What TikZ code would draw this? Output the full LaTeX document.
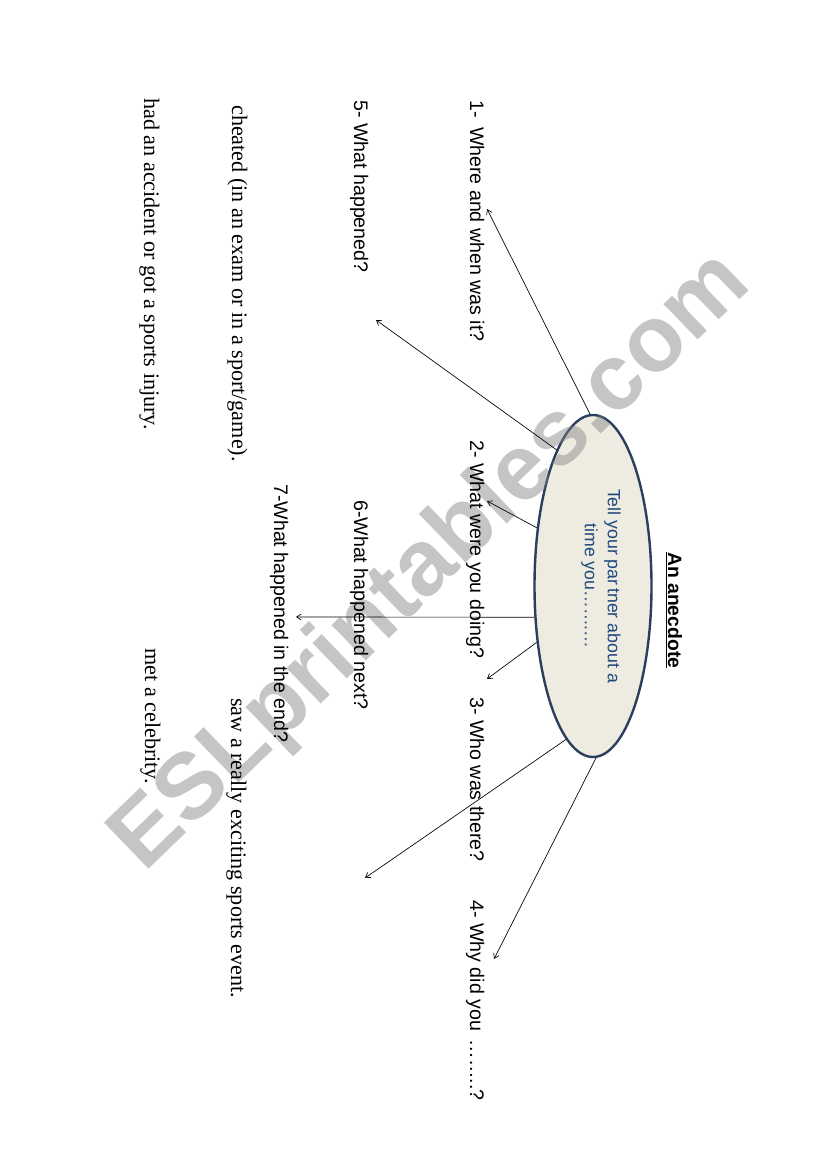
\documentclass[tikz,border=0pt]{standalone}
\usepackage{fontspec}
\setmainfont{Liberation Serif}
\newfontfamily\arialfont{Liberation Sans}
\usetikzlibrary{shapes.geometric,arrows.meta}

\definecolor{ovalfill}{HTML}{EEECE1}
\definecolor{ovaldraw}{HTML}{2C3E5E}
\definecolor{prompttext}{HTML}{1F497D}

\begin{document}
\begin{tikzpicture}[x=0.75pt, y=-0.75pt, >={Straight Barb[length=3.5pt,width=4.5pt]},
  question/.style={font=\arialfont\fontsize{14.7}{17}\selectfont, rotate=-90, anchor=base west, inner sep=0pt},
  answer/.style={font=\fontsize{16.6}{19}\selectfont, rotate=-90, anchor=base west, inner sep=0pt},
  link/.style={->, line width=0.5pt}]

\fill[white] (0,0) rectangle (826,1169);
\useasboundingbox (0,0) rectangle (826,1169);

% Oval in der Mitte
\node[ellipse, draw=ovaldraw, fill=ovalfill, line width=1.8pt, minimum width=87.75pt, minimum height=256.5pt, inner sep=0pt] (hub) at (593,586) {};

% Wasserzeichen
\node[font=\arialfont\bfseries\fontsize{70}{70}\selectfont, text=black!50, text opacity=.45, rotate=44] (wm) at (432,563) {ESLprintables.com};

\node[font=\arialfont\fontsize{13.3}{17.25}\selectfont, text=prompttext, rotate=-90, align=center, inner sep=0pt] (prompt) at (601,586) {Tell your par\kern2pt tner about a\\ time you…….…};
\node[font=\arialfont\bfseries\fontsize{14.5}{17}\selectfont, rotate=-90, anchor=base west, inner sep=0pt] (title) at (668,552) {\underline{An anecdote}};

% Fragen
\node[question] (q1) at (470,100) {1-\hspace{7pt}Where and when was it?};
\node[question] (q2) at (470,440) {2- What were you doing?};
\node[question] (q3) at (470,697) {3- Who was there?};
\node[question] (q4) at (470,900) {4- Why did you \,……..?};
\node[question] (q5) at (354,100) {5- What happened?};
\node[question] (q6) at (354,500) {6-What happened next?};
\node[question] (q7) at (274,484) {7-What happened in the end?};

% Antworten
\node[answer] (a1) at (232,105) {cheated (in an exam or in a sport/game).};
\node[answer] (a2) at (144,98) {had an accident or got a sports injury.};
\node[answer] (a3) at (231,698) {saw a really exciting sports event.};
\node[answer] (a4) at (145,648) {met a celebrity.};

% Pfeile
\coordinate (t1) at (487,209);
\coordinate (t2) at (376,320);
\coordinate (t3) at (487,501);
\coordinate (t4) at (296,617);
\coordinate (t5) at (487,679);
\coordinate (t6) at (365,878);
\coordinate (t7) at (494,959);
\draw[link] (hub.91) -- (t1);
\draw[link] (hub.105) -- (t2);
\draw[link] (hub.134) -- (t3);
\draw[link] (hub.208) -- (t4);
\draw[link] (hub.225) -- (t5);
\draw[link] (hub.260) -- (t6);
\draw[link] (hub.271) -- (t7);
\end{tikzpicture}
\end{document}
